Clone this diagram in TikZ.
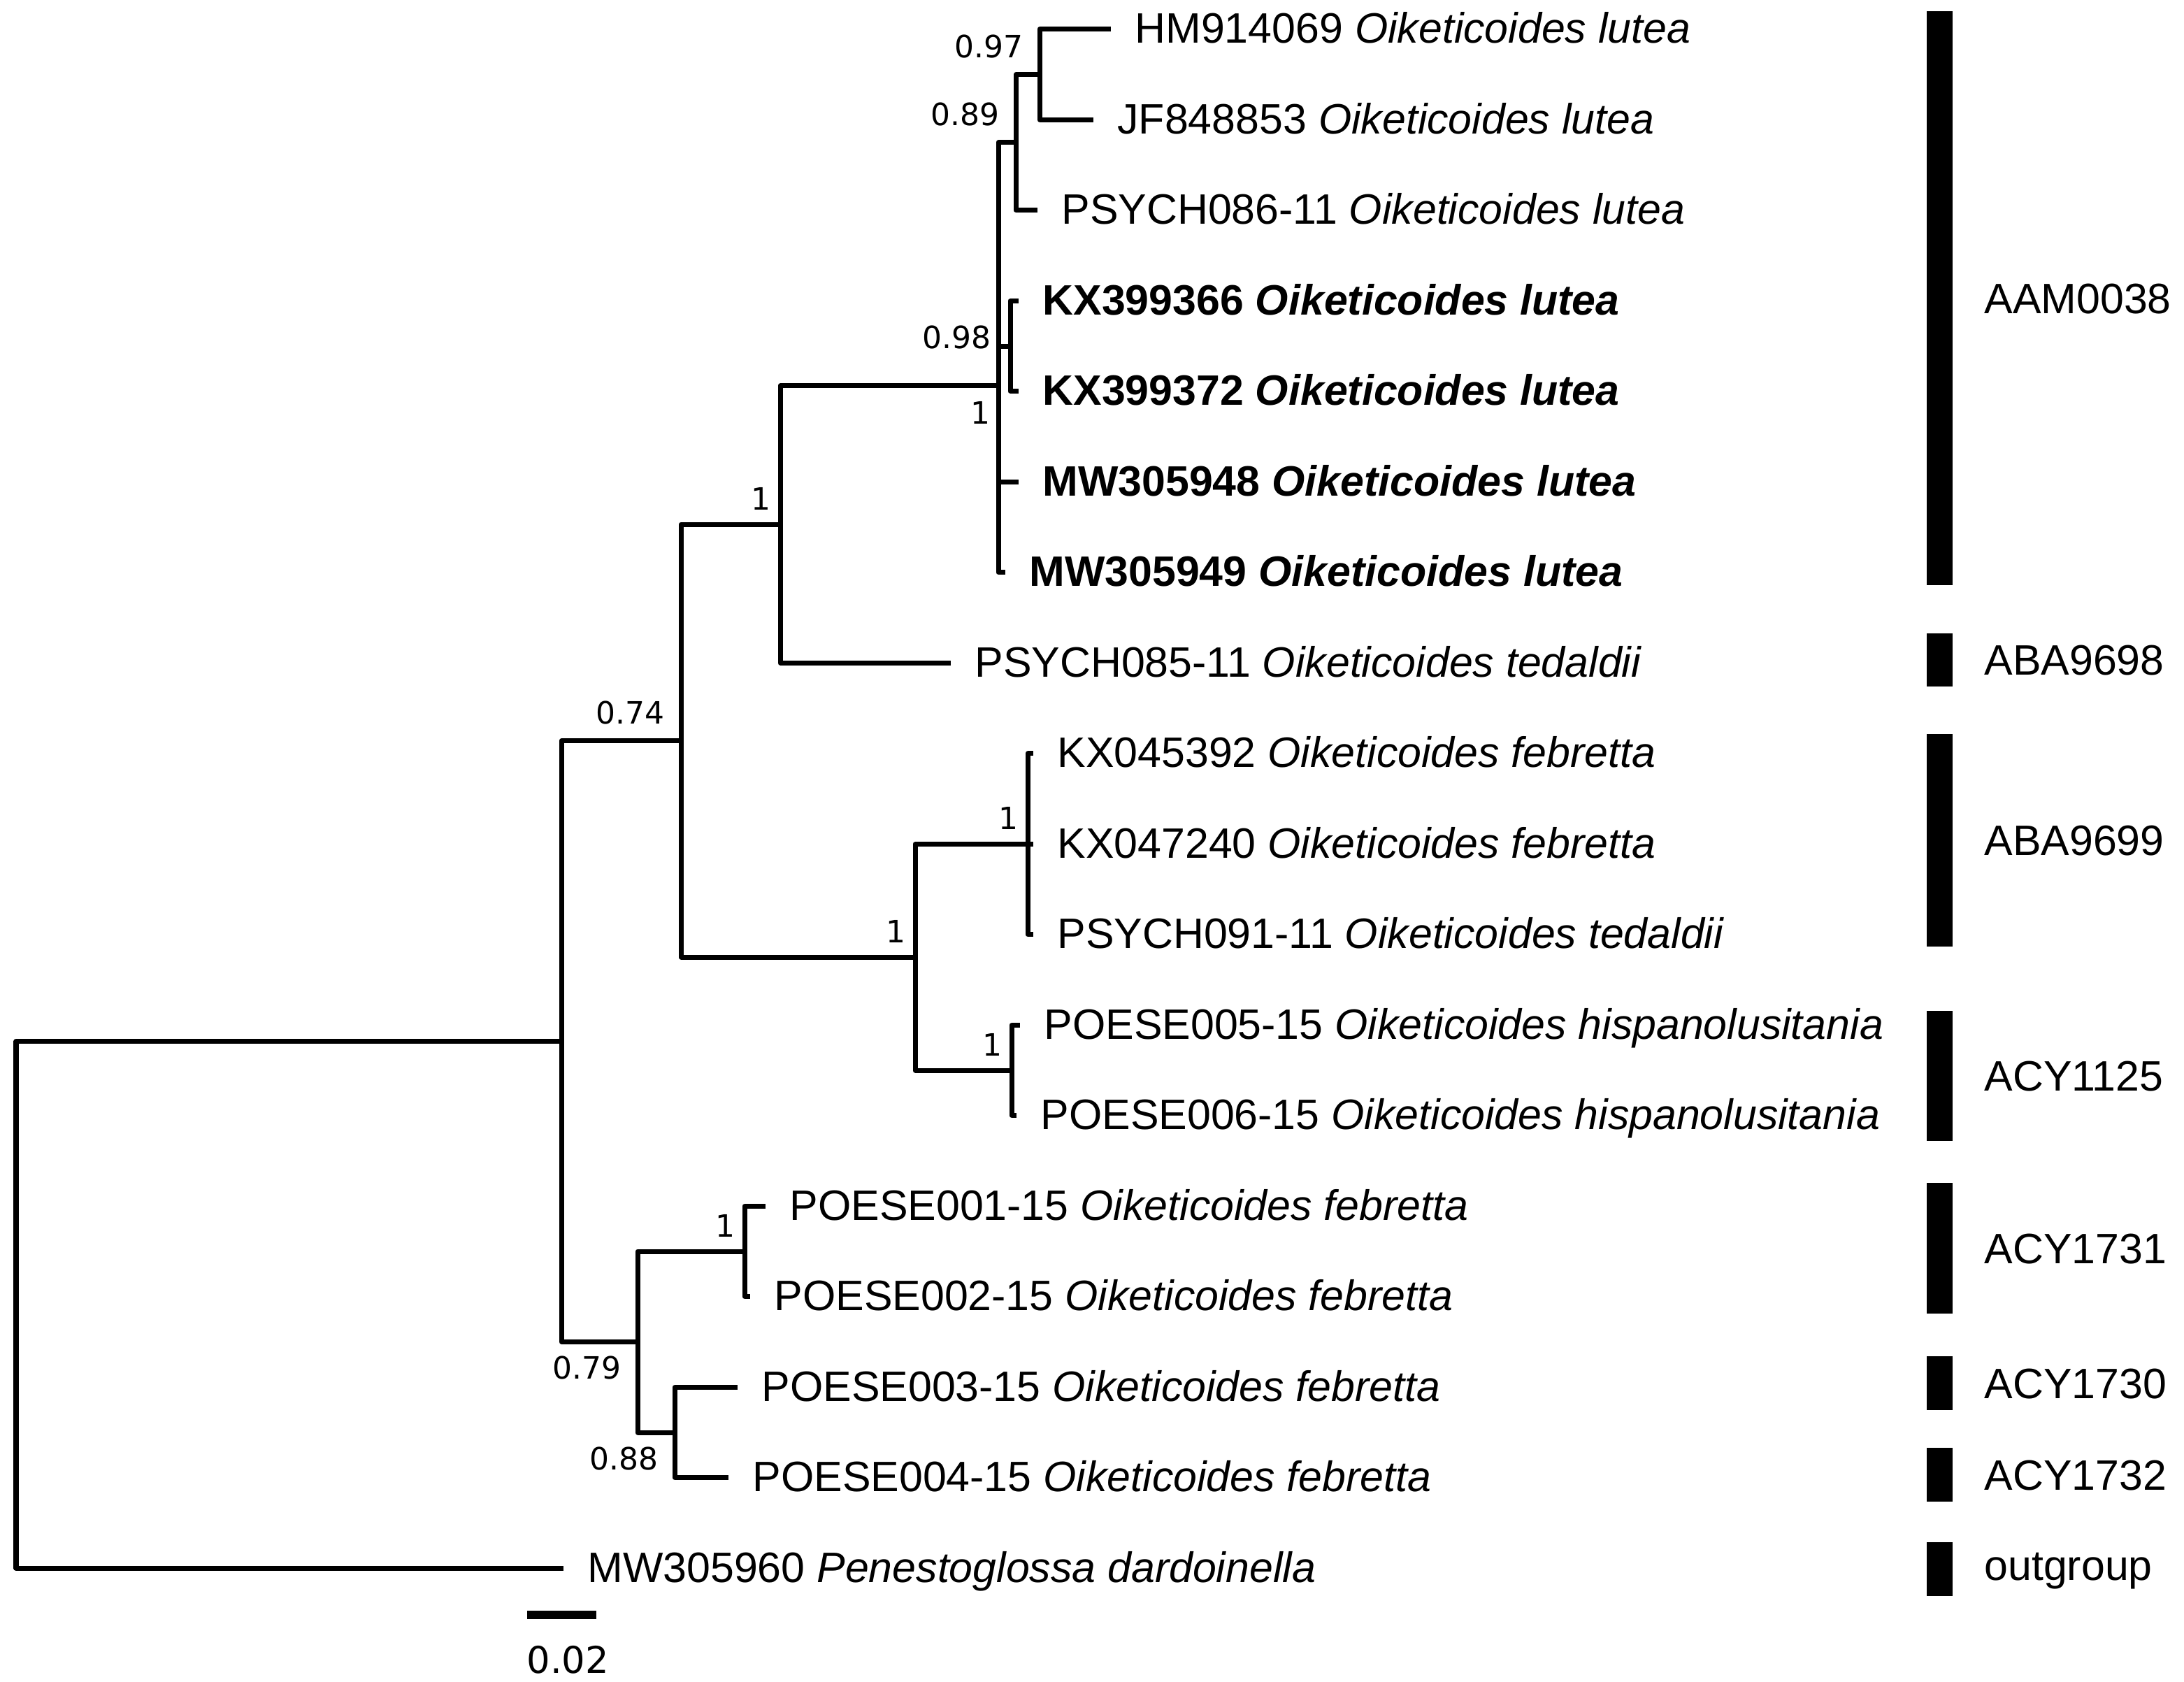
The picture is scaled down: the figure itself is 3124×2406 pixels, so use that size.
\documentclass[tikz,border=0pt]{standalone}
\usepackage{fontspec}
\setmainfont{Liberation Sans}
\newfontfamily\suppfont{DejaVu Sans}

\tikzset{every picture/.style={line width=0.07cm}}
\tikzset{
  branch/.style={line width=0.07cm, line join=round},
  taxon/.style={anchor=base west, inner sep=0pt, xshift=0.31cm, yshift=-0.2cm, font=\fontsize{17.3}{20}\selectfont},
  supa/.style={anchor=south east, inner sep=0pt, xshift=-0.2cm, yshift=0.2cm, font=\suppfont\fontsize{12.5}{14}\selectfont},
  supb/.style={anchor=north east, inner sep=0pt, xshift=-0.2cm, yshift=-0.17cm, font=\suppfont\fontsize{12.5}{14}\selectfont},
  supone/.style={supa, xshift=0.1cm, yshift=-0.03cm},
  cladebar/.style={fill=black},
  cladelab/.style={anchor=base west, inner sep=0pt, yshift=-0.218cm, font=\fontsize{17.3}{20}\selectfont},
}

\begin{document}
\begin{tikzpicture}[x=0.01cm,y=0.01cm,yscale=-1,xscale=1]
\useasboundingbox (0,0) rectangle (3124,2406);

% Internal nodes
\coordinate (root) at (23,1866);
\coordinate (A) at (803,1489.6);
\coordinate (B) at (974,1059.6);
\coordinate (C) at (1116,750);
\coordinate (D) at (1428,551.7);
\coordinate (E) at (1453,203.7);
\coordinate (G) at (1487,106.55);
\coordinate (F) at (1445,495.05);
\coordinate (H) at (1309,1369.2);
\coordinate (I) at (1470,1207.3);
\coordinate (J) at (1447,1531.05);
\coordinate (K) at (912,1919.55);
\coordinate (L) at (1065,1790.05);
\coordinate (M) at (965,2049.05);

% Tips
\coordinate (t1) at (1589,41.8);
\coordinate (t2) at (1564,171.3);
\coordinate (t3) at (1484,300.8);
\coordinate (t4) at (1457,430.3);
\coordinate (t5) at (1457,559.8);
\coordinate (t6) at (1457,689.3);
\coordinate (t7) at (1438,818.8);
\coordinate (t8) at (1360,948.3);
\coordinate (t9) at (1478,1077.8);
\coordinate (t10) at (1478,1207.3);
\coordinate (t11) at (1478,1336.8);
\coordinate (t12) at (1459,1466.3);
\coordinate (t13) at (1454,1595.8);
\coordinate (t14) at (1095,1725.3);
\coordinate (t15) at (1073,1854.8);
\coordinate (t16) at (1055,1984.3);
\coordinate (t17) at (1042,2113.8);
\coordinate (t18) at (806,2243.3);

% Branches
\draw[branch] (root) |- (A);
\draw[branch] (root) |- (t18);
\draw[branch] (A) |- (B);
\draw[branch] (A) |- (K);
\draw[branch] (B) |- (C);
\draw[branch] (B) |- (H);
\draw[branch] (C) |- (D);
\draw[branch] (C) |- (t8);
\draw[branch] (D) |- (E);
\draw[branch] (D) |- (F);
\draw[branch] (D) |- (t6);
\draw[branch] (D) |- (t7);
\draw[branch] (E) |- (G);
\draw[branch] (E) |- (t3);
\draw[branch] (G) |- (t1);
\draw[branch] (G) |- (t2);
\draw[branch] (F) |- (t4);
\draw[branch] (F) |- (t5);
\draw[branch] (H) |- (I);
\draw[branch] (H) |- (J);
\draw[branch] (I) |- (t9);
\draw[branch] (I) |- (t10);
\draw[branch] (I) |- (t11);
\draw[branch] (J) |- (t12);
\draw[branch] (J) |- (t13);
\draw[branch] (K) |- (L);
\draw[branch] (K) |- (M);
\draw[branch] (L) |- (t14);
\draw[branch] (L) |- (t15);
\draw[branch] (M) |- (t16);
\draw[branch] (M) |- (t17);

% Taxon labels
\node[taxon] (n1) at (t1) {HM914069 \textit{Oiketicoides lutea}};
\node[taxon] (n2) at (t2) {JF848853 \textit{Oiketicoides lutea}};
\node[taxon] (n3) at (t3) {PSYCH086-11 \textit{Oiketicoides lutea}};
\node[taxon] (n4) at (t4) {\textbf{KX399366 \textit{Oiketicoides lutea}}};
\node[taxon] (n5) at (t5) {\textbf{KX399372 \textit{Oiketicoides lutea}}};
\node[taxon] (n6) at (t6) {\textbf{MW305948 \textit{Oiketicoides lutea}}};
\node[taxon] (n7) at (t7) {\textbf{MW305949 \textit{Oiketicoides lutea}}};
\node[taxon] (n8) at (t8) {PSYCH085-11 \textit{Oiketicoides tedaldii}};
\node[taxon] (n9) at (t9) {KX045392 \textit{Oiketicoides febretta}};
\node[taxon] (n10) at (t10) {KX047240 \textit{Oiketicoides febretta}};
\node[taxon] (n11) at (t11) {PSYCH091-11 \textit{Oiketicoides tedaldii}};
\node[taxon] (n12) at (t12) {POESE005-15 \textit{Oiketicoides hispanolusitania}};
\node[taxon] (n13) at (t13) {POESE006-15 \textit{Oiketicoides hispanolusitania}};
\node[taxon] (n14) at (t14) {POESE001-15 \textit{Oiketicoides febretta}};
\node[taxon] (n15) at (t15) {POESE002-15 \textit{Oiketicoides febretta}};
\node[taxon] (n16) at (t16) {POESE003-15 \textit{Oiketicoides febretta}};
\node[taxon] (n17) at (t17) {POESE004-15 \textit{Oiketicoides febretta}};
\node[taxon] (n18) at (t18) {MW305960 \textit{Penestoglossa dardoinella}};

% Support values
\node[supa] (sG) at (G) {0.97};
\node[supa] (sE) at (E) {0.89};
\node[supa, anchor=east, xshift=-0.04cm, yshift=-0.07cm] (sF) at (F) {0.98};
\node[supb, xshift=0.12cm, yshift=-0.02cm] (sD) at (D) {1};
\node[supone] (sC) at (C) {1};
\node[supa] (sB) at (B) {0.74};
\node[supone] (sH) at (H) {1};
\node[supone] (sI) at (I) {1};
\node[supone] (sJ) at (J) {1};
\node[supone] (sL) at (L) {1};
\node[supb] (sK) at (K) {0.79};
\node[supb] (sM) at (M) {0.88};

% Clade bars
\fill[cladebar] (2756,16) rectangle (2793,837);
\fill[cladebar] (2756,906) rectangle (2793,982);
\fill[cladebar] (2756,1050) rectangle (2793,1354);
\fill[cladebar] (2756,1446) rectangle (2793,1632);
\fill[cladebar] (2756,1692) rectangle (2793,1879);
\fill[cladebar] (2756,1940) rectangle (2793,2017);
\fill[cladebar] (2756,2071) rectangle (2793,2148);
\fill[cladebar] (2756,2206) rectangle (2793,2283);

% Clade names
\node[cladelab] (c1) at (2835,426.5) {AAM0038};
\node[cladelab] (c2) at (2835,944) {ABA9698};
\node[cladelab] (c3) at (2835,1202) {ABA9699};
\node[cladelab] (c4) at (2835,1539) {ACY1125};
\node[cladelab] (c5) at (2835,1785.5) {ACY1731};
\node[cladelab] (c6) at (2835,1978.5) {ACY1730};
\node[cladelab] (c7) at (2835,2109.5) {ACY1732};
\node[cladelab, yshift=0.06cm] (c8) at (2835,2244.5) {outgroup};

% Scale bar
\coordinate (sb1) at (754,2310);
\coordinate (sb2) at (853,2310);
\draw[line width=0.127cm] (sb1) -- (sb2);
\node[anchor=base west, inner sep=0pt, font=\suppfont\fontsize{15}{18}\selectfont] (sbl) at (750,2393) {0.02};

\end{tikzpicture}
\end{document}
